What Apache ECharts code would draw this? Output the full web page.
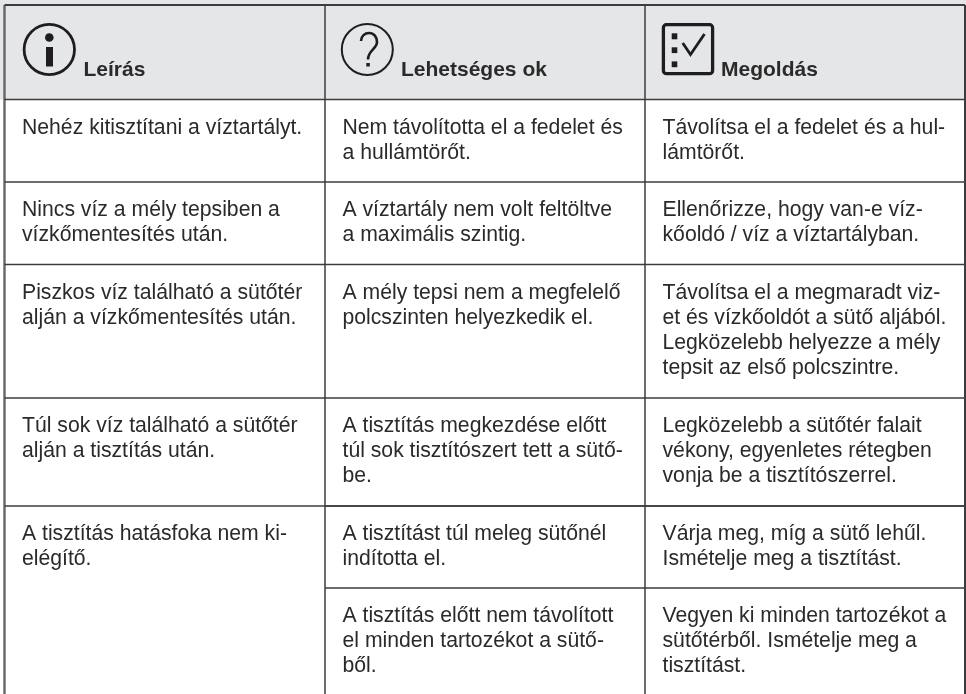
<!DOCTYPE html>
<html><head><meta charset="utf-8">
<style>html,body{margin:0;padding:0;background:#fff}#c{width:966px;height:694px}</style>
<script src="https://cdn.jsdelivr.net/npm/echarts@6/dist/echarts.min.js"></script>
</head><body><div id="c"></div>
<script>
const headers = ["Leírás", "Lehetséges ok", "Megoldás"];
const descriptions = [
  ["Nehéz kitisztítani a víztartályt."],
  ["Nincs víz a mély tepsiben a", "vízkőmentesítés után."],
  ["Piszkos víz található a sütőtér", "alján a vízkőmentesítés után."],
  ["Túl sok víz található a sütőtér", "alján a tisztítás után."],
  ["A tisztítás hatásfoka nem ki-", "elégítő."]
];
const causes = [
  ["Nem távolította el a fedelet és", "a hullámtörőt."],
  ["A víztartály nem volt feltöltve", "a maximális szintig."],
  ["A mély tepsi nem a megfelelő", "polcszinten helyezkedik el."],
  ["A tisztítás megkezdése előtt", "túl sok tisztítószert tett a sütő-", "be."],
  ["A tisztítást túl meleg sütőnél", "indította el."],
  ["A tisztítás előtt nem távolított", "el minden tartozékot a sütő-", "ből."]
];
const solutions = [
  ["Távolítsa el a fedelet és a hul-", "lámtörőt."],
  ["Ellenőrizze, hogy van-e víz-", "kőoldó / víz a víztartályban."],
  ["Távolítsa el a megmaradt viz-", "et és vízkőoldót a sütő aljából.", "Legközelebb helyezze a mély", "tepsit az első polcszintre."],
  ["Legközelebb a sütőtér falait", "vékony, egyenletes rétegben", "vonja be a tisztítószerrel."],
  ["Várja meg, míg a sütő lehűl.", "Ismételje meg a tisztítást."],
  ["Vegyen ki minden tartozékot a", "sütőtérből. Ismételje meg a", "tisztítást."]
];
const columnEdges = [4.5, 325, 645, 965];
const rowEdges = [5, 99.5, 182, 264.5, 398, 506, 588, 694];
const ink = "#2b2a2b", lineColor = "#3c3c3e", headFill = "#e5e6e8", iconInk = "#1f1d1e";
const font = "21.2px 'Liberation Sans', Arial, sans-serif";
const boldFont = "bold 21px 'Liberation Sans', Arial, sans-serif";
const LH = 25, padX = 17.5, padY = 16;

const cellData = [];
[descriptions, causes, solutions].forEach((col, c) => col.forEach((lines, r) => {
  cellData.push({ value: [columnEdges[c] + padX, rowEdges[r + 1] + padY], text: lines.join("\n") });
}));

function line(api, x1, y1, x2, y2, w, color) {
  const a = api.coord([x1, y1]), b = api.coord([x2, y2]);
  return { type: "line", shape: { x1: a[0], y1: a[1], x2: b[0], y2: b[1] }, style: { stroke: color || lineColor, lineWidth: w || 1.5 } };
}

const option = {
  animation: false,
  backgroundColor: "#fff",
  grid: { left: 0, right: 0, top: 0, bottom: 0 },
  xAxis: { type: "value", min: 0, max: 966, show: false },
  yAxis: { type: "value", min: 0, max: 694, inverse: true, show: false },
  series: [
    {
      type: "custom", coordinateSystem: "cartesian2d", silent: true, z: 1, clip: false,
      data: [[0, 0]],
      renderItem(p, api) {
        const c = [];
        const o = api.coord([0, 0]), e = api.coord([966, rowEdges[1]]);
        c.push({ type: "rect", shape: { x: o[0], y: o[1], width: e[0] - o[0], height: e[1] - o[1] }, style: { fill: headFill } });
        columnEdges.forEach((x, i) => c.push(line(api, x, rowEdges[0], x, 694, i === 0 ? 2.4 : i === 3 ? 2 : 1.5, i === 0 ? "#666" : lineColor)));
        rowEdges.slice(0, 6).forEach((y, i) => c.push(line(api, columnEdges[0], y, columnEdges[3], y, i === 0 ? 2 : 1.5)));
        c.push(line(api, columnEdges[1], rowEdges[5], columnEdges[3], rowEdges[5]));
        c.push(line(api, columnEdges[1], rowEdges[6], columnEdges[3], rowEdges[6]));
        return { type: "group", children: c };
      }
    },
    {
      type: "custom", coordinateSystem: "cartesian2d", silent: true, z: 2,
      data: cellData,
      renderItem(p, api) {
        const a = api.coord([api.value(0), api.value(1)]);
        return { type: "text", x: a[0], y: a[1], style: { text: cellData[p.dataIndex].text, font, fill: ink, lineHeight: LH, verticalAlign: "top", align: "left" } };
      }
    }
  ],
  graphic: { elements: [
    { type: "text", x: 83.5, y: 70.5, z: 5, style: { text: headers[0], font: boldFont, fill: ink, verticalAlign: "middle" } },
    { type: "text", x: 401, y: 70.5, z: 5, style: { text: headers[1], font: boldFont, fill: ink, verticalAlign: "middle" } },
    { type: "text", x: 721, y: 70.5, z: 5, style: { text: headers[2], font: boldFont, fill: ink, verticalAlign: "middle" } },
    { type: "circle", z: 5, shape: { cx: 49.3, cy: 49.5, r: 25.2 }, style: { fill: "none", stroke: iconInk, lineWidth: 2.8 } },
    { type: "circle", z: 5, shape: { cx: 49.3, cy: 37.5, r: 4.3 }, style: { fill: iconInk } },
    { type: "rect", z: 5, shape: { x: 46, y: 47, width: 7, height: 19.5 }, style: { fill: iconInk } },
    { type: "circle", z: 5, shape: { cx: 367.3, cy: 49.5, r: 25.5 }, style: { fill: "none", stroke: iconInk, lineWidth: 2 } },
    { type: "bezierCurve", z: 5, shape: { x1: 361, y1: 41, cpx1: 361, cpy1: 36, cpx2: 365, cpy2: 33, x2: 369, y2: 33 }, style: { fill: "none", stroke: iconInk, lineWidth: 2.6 } },
    { type: "bezierCurve", z: 5, shape: { x1: 369, y1: 33, cpx1: 374, cpy1: 33, cpx2: 377, cpy2: 37, x2: 377, y2: 42 }, style: { fill: "none", stroke: iconInk, lineWidth: 2.6 } },
    { type: "bezierCurve", z: 5, shape: { x1: 377, y1: 42, cpx1: 377, cpy1: 49, cpx2: 368, cpy2: 50, x2: 368, y2: 59.5 }, style: { fill: "none", stroke: iconInk, lineWidth: 2.6 } },
    { type: "rect", z: 5, shape: { x: 366.3, y: 63, width: 3.5, height: 3.5 }, style: { fill: iconInk } },
    { type: "rect", z: 5, shape: { x: 663.4, y: 24.7, width: 49.2, height: 49, r: 3 }, style: { fill: "none", stroke: iconInk, lineWidth: 3.3 } },
    { type: "rect", z: 5, shape: { x: 671.7, y: 33.3, width: 5.6, height: 6 }, style: { fill: iconInk } },
    { type: "rect", z: 5, shape: { x: 671.7, y: 47.3, width: 5.6, height: 5.8 }, style: { fill: iconInk } },
    { type: "rect", z: 5, shape: { x: 671.7, y: 61.4, width: 5.6, height: 5.8 }, style: { fill: iconInk } },
    { type: "polyline", z: 5, shape: { points: [[682.7, 43], [690.5, 54.5], [704.5, 34]] }, style: { fill: "none", stroke: iconInk, lineWidth: 2.8 } }
  ] }
};
const chart = echarts.init(document.getElementById("c"), null, { renderer: "canvas" });
chart.setOption(option);
</script></body></html>
